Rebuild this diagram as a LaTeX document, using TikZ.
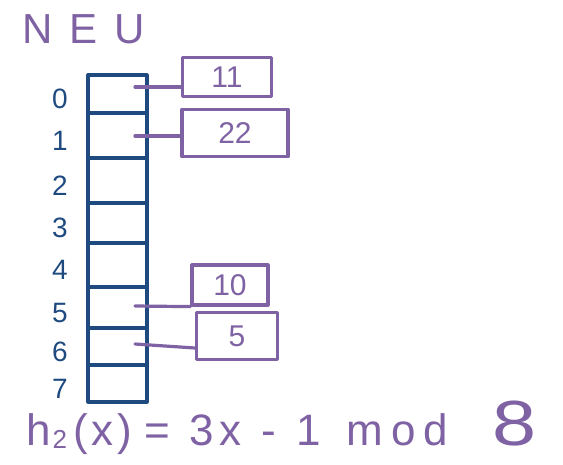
\documentclass[tikz,border=0pt]{standalone}
\usepackage{fontspec}
\usepackage{graphicx}
\setmainfont{Liberation Sans}
\definecolor{ink}{HTML}{1F4A80}
\definecolor{lila}{HTML}{7E62A3}
\begin{document}
\begin{tikzpicture}[x=1pt,y=-1pt,
  cell/.style={draw=ink, line width=3.2pt, line join=round, inner sep=0pt, outer sep=0pt, minimum width=59pt},
  idx/.style={text=ink, font=\fontsize{28}{30}\selectfont, inner sep=0pt},
  valbox/.style={draw=lila, line width=3.2pt, line join=round, text=lila, font=\fontsize{30}{32}\selectfont, inner sep=0pt},
  link/.style={draw=lila, line width=3.2pt, line cap=round}]
\useasboundingbox (0,0) rectangle (563,464);

% title
\node[text=lila, font=\fontsize{42}{44}\selectfont, inner sep=0pt] (title) at (84,29) {N\hspace{17pt}E\hspace{17pt}U};

% hash table cells with their indices
\foreach \i/\t/\b in {0/75/113, 1/113/158, 2/158/203, 3/203/243, 4/243/287, 5/287/328, 6/328/365, 7/365/402} {
  \node[cell, anchor=north west, minimum height={\b-\t}] (c\i) at (88,\t) {};
  \node[idx] (i\i) at (60,{(\t+\b)/2+5}) {\i};
}

% stored values
\node[valbox, minimum width=89pt, minimum height=39pt] (v11) at (227,77) {11};
\node[valbox, minimum width=106pt, minimum height=47pt] (v22) at (235,133) {22};
\node[valbox, minimum width=76pt, minimum height=40pt] (v10) at (230,285) {10};
\node[valbox, minimum width=81pt, minimum height=47pt] (v5) at (237,336) {5};

% pointers from the slots to the values
\coordinate (s0) at (135,87);
\coordinate (s1) at (135,136);
\coordinate (s5) at (135,306);
\coordinate (s6) at (135,344);
\draw[link] (s0) -- (s0 -| v11.west);
\draw[link] (s1) -- (s1 -| v22.west);
\draw[link] (s5) -- (v10.south west);
\draw[link] (s6) -- ([yshift=-4pt]s6 -| v5.west);

% hash function
\node[text=lila, font=\fontsize{44}{46}\selectfont, inner sep=0pt, anchor=base west] (fn) at (26,445)
  {h\hspace{2pt}\raisebox{-3pt}{\fontsize{26}{28}\selectfont 2}\hspace{6pt}(\hspace{4pt}x\hspace{4pt})\hspace{12pt}=\hspace{19pt}3\hspace{6pt}x\hspace{20pt}-\hspace{20pt}1\hspace{26pt}m\hspace{8pt}o\hspace{8pt}d\hspace{44pt}\scalebox{1.8}[1.45]{8}};
\end{tikzpicture}
\end{document}
